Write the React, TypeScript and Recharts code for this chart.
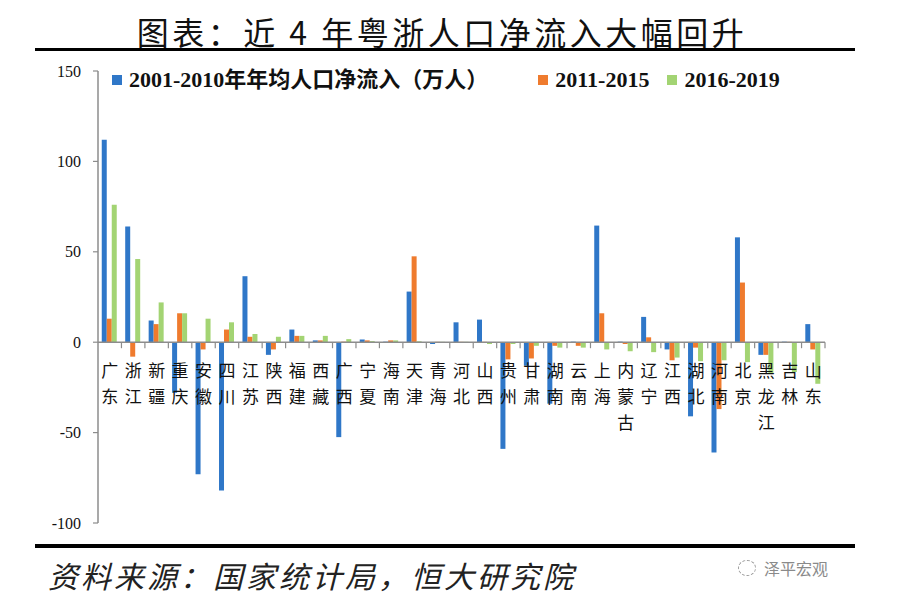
import React from "react";
import { BarChart, Bar, XAxis, YAxis, ReferenceLine } from "recharts";

const categories = [
  "广东", "浙江", "新疆", "重庆", "安徽", "四川", "江苏", "陕西", "福建", "西藏",
  "广西", "宁夏", "海南", "天津", "青海", "河北", "山西", "贵州", "甘肃", "湖南",
  "云南", "上海", "内蒙古", "辽宁", "江西", "湖北", "河南", "北京", "黑龙江", "吉林", "山东",
];
const inflow2001to2010 = [
  112, 64, 12, -28, -73, -82, 36.5, -7, 7, 1,
  -52.5, 1.5, 0.3, 28, -1, 11, 12.5, -59, -13, -34,
  0.3, 64.5, 0.3, 14, -4, -41, -61, 58, -7, 0.3, 10,
];
const inflow2011to2015 = [
  13, -8, 10, 16, -4, 7, 3, -4, 3.5, 1,
  0.3, 1, 1, 47.5, 0.2, 0.2, 0.2, -9.5, -9, -2,
  -2, 16, -1, 2.7, -10, -3, -37, 33, -7, 0.2, -4,
];
const inflow2016to2019 = [
  76, 46, 22, 16, 13, 11, 4.5, 3, 3.5, 3.5,
  1.7, 0.6, 1, 0.5, 0.2, 0.2, -1, -1, -2, -3,
  -3, -4, -5, -5.5, -8.5, -10.5, -10, -11, -17, -16.5, -23,
];
const yTicks = [-100, -50, 0, 50, 100, 150];
const seriesNames = ["2001-2010年年均人口净流入（万人）", "2011-2015", "2016-2019"];
const seriesColors = ["#2F77C8", "#EF7B2E", "#A3D473"];

const data = categories.map((name, i) => ({
  name,
  a: inflow2001to2010[i],
  b: inflow2011to2015[i],
  c: inflow2016to2019[i],
}));

const W = 917;
const H = 606;
const PLOT_LEFT = 98;
const PLOT_RIGHT = 825;
const PLOT_TOP = 71;
const PLOT_BOTTOM = 523;
const Y_MIN = -100;
const Y_MAX = 150;
const ZERO_Y = PLOT_TOP + ((PLOT_BOTTOM - PLOT_TOP) * Y_MAX) / (Y_MAX - Y_MIN);
const BAND = (PLOT_RIGHT - PLOT_LEFT) / categories.length;

const SERIF = '"Liberation Serif", "Times New Roman", "Noto Sans CJK SC", serif';
const CJK = '"Noto Sans CJK SC", "Liberation Serif", serif';

const CategoryTick = (props: any) => {
  const { x, payload } = props;
  const chars = String(payload.value).split("");
  return (
    <g>
      <line x1={x + BAND / 2} x2={x + BAND / 2} y1={ZERO_Y} y2={ZERO_Y + 6} stroke="#8c8c8c" strokeWidth={1.2} />
      {chars.map((ch, i) => (
        <text
          key={i}
          x={x}
          y={ZERO_Y + 35 + i * 26}
          textAnchor="middle"
          fontSize={17}
          fontFamily={CJK}
          fill="#111"
        >
          {ch}
        </text>
      ))}
    </g>
  );
};

const LegendBox = () => (
  <div
    style={{
      position: "absolute",
      left: 112,
      top: 65,
      display: "flex",
      alignItems: "center",
      fontFamily: SERIF,
      fontWeight: 700,
      fontSize: 22,
      color: "#111",
      whiteSpace: "nowrap",
      lineHeight: "30px",
    }}
  >
    {seriesNames.map((n, i) => (
      <div key={n} style={{ display: "flex", alignItems: "center", marginRight: i === 0 ? 50 : 18 }}>
        <span style={{ display: "inline-block", width: 10, height: 10, background: seriesColors[i], marginRight: 7 }} />
        <span>{n}</span>
      </div>
    ))}
  </div>
);

export default function App() {
  return (
    <div style={{ position: "absolute", left: 0, top: 0, width: W, height: H, background: "#fff", overflow: "hidden" }}>
      <div
        style={{
          position: "absolute",
          left: 0,
          width: 884,
          top: 11,
          textAlign: "center",
          fontFamily: CJK,
          fontSize: 32,
          letterSpacing: 3.5,
          color: "#111",
          lineHeight: "40px",
        }}
      >
        图表：近 4 年粤浙人口净流入大幅回升
      </div>
      <div style={{ position: "absolute", left: 35, width: 820, top: 48, height: 3, background: "#000" }} />
      <div style={{ position: "absolute", left: 35, width: 820, top: 544, height: 4, background: "#000" }} />
      <div
        style={{
          position: "absolute",
          left: 48,
          top: 555,
          fontFamily: CJK,
          fontSize: 30,
          fontStyle: "italic",
          letterSpacing: 3,
          color: "#222",
          lineHeight: "40px",
        }}
      >
        资料来源：国家统计局，恒大研究院
      </div>
      <div style={{ position: "absolute", left: 738, top: 556, display: "flex", alignItems: "center", color: "#8a8a8a", fontFamily: CJK, fontSize: 16 }}>
        <span style={{ display: "inline-block", width: 16, height: 14, borderRadius: "50%", border: "1.5px dashed #9a9a9a", marginRight: 8 }} />
        <span>泽平宏观</span>
      </div>
      <div style={{ position: "absolute", left: 0, top: 0 }}>
        <BarChart
          width={W}
          height={H}
          data={data}
          margin={{ top: PLOT_TOP, right: W - PLOT_RIGHT, bottom: H - PLOT_BOTTOM - 1, left: 0 }}
          barCategoryGap="16%"
          barGap={0}
        >
          <XAxis
            dataKey="name"
            axisLine={false}
            tickLine={false}
            interval={0}
            height={1}
            tick={<CategoryTick />}
          />
          <YAxis
            width={PLOT_LEFT}
            domain={[Y_MIN, Y_MAX]}
            ticks={yTicks}
            interval={0}
            axisLine={{ stroke: "#8c8c8c", strokeWidth: 1.5 }}
            tickLine={{ stroke: "#8c8c8c", strokeWidth: 1.2 }}
            tickSize={5}
            tickMargin={12}
            tick={{ fill: "#111", fontSize: 16, fontFamily: SERIF }}
          />
          <Bar dataKey="a" name={seriesNames[0]} fill={seriesColors[0]} isAnimationActive={false} />
          <Bar dataKey="b" name={seriesNames[1]} fill={seriesColors[1]} isAnimationActive={false} />
          <Bar dataKey="c" name={seriesNames[2]} fill={seriesColors[2]} isAnimationActive={false} />
          <ReferenceLine y={0} stroke="#8c8c8c" strokeWidth={1.5} />
        </BarChart>
      </div>
      <LegendBox />
    </div>
  );
}
